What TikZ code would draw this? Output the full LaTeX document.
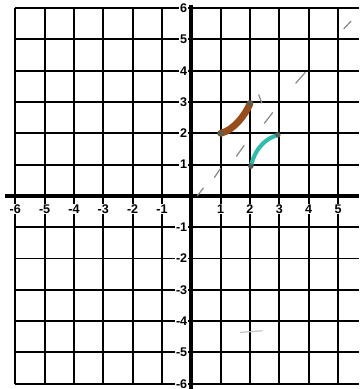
\documentclass[tikz,border=0pt]{standalone}
\usepackage{fontspec}
\setmainfont{Liberation Sans}
\usepackage{tikz}
\usetikzlibrary{positioning}
\definecolor{rustbrown}{RGB}{152,78,28}
\definecolor{tealline}{RGB}{48,188,172}
\definecolor{pencil}{RGB}{135,135,135}
\definecolor{dotgray}{RGB}{85,95,85}

\begin{document}
\begin{tikzpicture}[
    x=0.6cm, y=0.64cm,
    font=\bfseries\fontsize{7.3}{8}\selectfont,
    gridline/.style={
		line width=1.1pt,
		draw=black
	},
    axisline/.style={
		line width=2.3pt,
		draw=black
	},
    ticklabel/.style={
		fill=white,
		inner sep=0.5pt
	},
    curveseg/.style={
		line width=4pt,
		line cap=round
	},
    enddot/.style={
		circle,
		fill=dotgray,
		inner sep=0pt,
		minimum size=3.2pt
	},
    pencilmark/.style={
		draw=pencil,
		line width=0.7pt,
		line cap=round
	}
  ]
  \useasboundingbox (-6.52,-6.17) rectangle (5.73,6.26);
    % We start by placing the grid
  \foreach \k in {-6,...,6}
    \draw [gridline] (-6,\k) -- (5.73,\k);
  \foreach \k in {-6,...,5}
    \draw [gridline] (\k,-6) -- (\k,6);

  % axes
  \draw [axisline] (-6.35,0) -- (5.73,0);
  \draw [axisline] (0,-6.17) -- (0,6.1);

  % numbers on the axes
  \foreach \k in {-6,-5,-4,-3,-2,-1,1,2,3,4,5,6}
    \node [ticklabel, anchor=east] (ylab\k) at (-0.1,\k) {\k};
  \foreach \k in {-6,-5,-4,-3,-2,-1,1,2,3,4,5}
    \node [ticklabel] (xlab\k) at (\k,-0.42) {\k};

  % pencil marks along the diagonal
  \foreach \mx/\my/\dx/\dy in {0.31/0.13/0.1/0.12, 0.89/0.73/0.1/0.14,
      1.67/1.44/0.13/0.17, 2.35/3.1/-0.05/0.13, 2.63/2.49/0.14/0.17,
      3.72/3.77/0.16/0.17, 5.32/5.46/0.12/0.12}
    \draw [pencilmark] (\mx-\dx,\my-\dy) -- (\mx+\dx,\my+\dy);
  \draw [pencilmark, draw=pencil!50] (1.67,-4.36) -- (2.42,-4.31);

  % the two pieces
  \coordinate (b1) at (1,2);
  \coordinate (b2) at (2,2.95);
  \coordinate (c1) at (2.03,0.95);
  \coordinate (c2) at (2.95,1.95);
  \draw [curveseg, rustbrown] (b1) .. controls (1.45,2.1) and (1.85,2.6) .. (b2);
  \draw [curveseg, tealline, line width=2.4pt] (c1) .. controls (2.2,1.6) and (2.6,1.85) .. (c2);
  \foreach \p in {b1,b2,c1,c2}
    \node [enddot] (dot\p) at (\p) {};

\end{tikzpicture}
\end{document}
